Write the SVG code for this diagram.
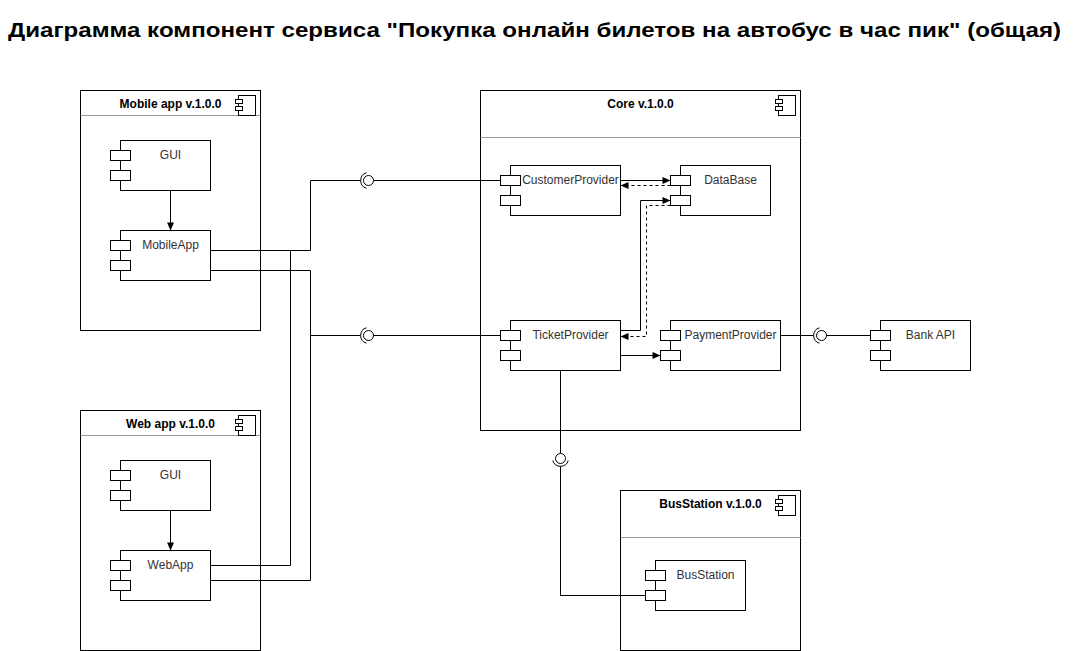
<svg xmlns="http://www.w3.org/2000/svg" width="1082" height="651" viewBox="0 0 1082 651">
<style>
text { font-family: "Liberation Sans", Arial, Helvetica, sans-serif; }
.title { font-size: 20px; font-weight: bold; fill: #000; }
.ctitle { font-size: 12px; font-weight: bold; fill: #000; text-anchor: middle; }
.lbl { font-size: 12px; fill: #333; text-anchor: middle; }
.box { fill: #fff; stroke: #000; stroke-width: 1; }
.hdr { stroke: #999; stroke-width: 1; fill: none; }
.edge { fill: none; stroke: #000; stroke-width: 1; }
.dash { stroke-dasharray: 3 3; }
.ball { fill: #fff; stroke: #000; stroke-width: 1; }
</style>
<defs>
<marker id="arr" markerUnits="userSpaceOnUse" markerWidth="9" markerHeight="9" refX="8" refY="4" orient="auto" overflow="visible">
<path d="M0,0.5 L8,4 L0,7.5 z" fill="#000" stroke="none"/>
</marker>
</defs>
<rect x="0" y="0" width="1082" height="651" fill="#fff"/>
<text class="title" x="8" y="37" textLength="1053" lengthAdjust="spacingAndGlyphs">Диаграмма компонент сервиса "Покупка онлайн билетов на автобус в час пик" (общая)</text>
<g transform="translate(0.5,0.5)">
<g id="mobile-app">
<rect class="box" x="80" y="90" width="180" height="240"/>
<line class="hdr" x1="80" y1="115" x2="260" y2="115"/>
<text class="ctitle" x="170" y="107">Mobile app v.1.0.0</text>
<rect class="box" x="238" y="95" width="17" height="20"/>
<rect class="box" x="235" y="99" width="7" height="4"/>
<rect class="box" x="235" y="106" width="7" height="4"/>
</g>
<g id="mobile-gui">
<rect class="box" x="120" y="140" width="90" height="50"/>
<rect class="box" x="110" y="150" width="20" height="10"/>
<rect class="box" x="110" y="170" width="20" height="10"/>
<text class="lbl" x="170" y="158">GUI</text>
</g>
<g id="mobileapp">
<rect class="box" x="120" y="230" width="90" height="50"/>
<rect class="box" x="110" y="240" width="20" height="10"/>
<rect class="box" x="110" y="260" width="20" height="10"/>
<text class="lbl" x="170" y="248">MobileApp</text>
</g>
<g id="web-app">
<rect class="box" x="80" y="410" width="180" height="240"/>
<line class="hdr" x1="80" y1="435" x2="260" y2="435"/>
<text class="ctitle" x="170" y="427">Web app v.1.0.0</text>
<rect class="box" x="238" y="415" width="17" height="20"/>
<rect class="box" x="235" y="419" width="7" height="4"/>
<rect class="box" x="235" y="426" width="7" height="4"/>
</g>
<g id="web-gui">
<rect class="box" x="120" y="460" width="90" height="50"/>
<rect class="box" x="110" y="470" width="20" height="10"/>
<rect class="box" x="110" y="490" width="20" height="10"/>
<text class="lbl" x="170" y="478">GUI</text>
</g>
<g id="webapp">
<rect class="box" x="120" y="550" width="90" height="50"/>
<rect class="box" x="110" y="560" width="20" height="10"/>
<rect class="box" x="110" y="580" width="20" height="10"/>
<text class="lbl" x="170" y="568">WebApp</text>
</g>
<g id="core">
<rect class="box" x="480" y="90" width="320" height="340"/>
<line class="hdr" x1="480" y1="137" x2="800" y2="137"/>
<text class="ctitle" x="640" y="107">Core v.1.0.0</text>
<rect class="box" x="778" y="95" width="17" height="20"/>
<rect class="box" x="775" y="99" width="7" height="4"/>
<rect class="box" x="775" y="106" width="7" height="4"/>
</g>
<g id="customerprovider">
<rect class="box" x="510" y="165" width="110" height="50"/>
<rect class="box" x="500" y="175" width="20" height="10"/>
<rect class="box" x="500" y="195" width="20" height="10"/>
<text class="lbl" x="570" y="183">CustomerProvider</text>
</g>
<g id="database">
<rect class="box" x="680" y="165" width="90" height="50"/>
<rect class="box" x="670" y="175" width="20" height="10"/>
<rect class="box" x="670" y="195" width="20" height="10"/>
<text class="lbl" x="730" y="183">DataBase</text>
</g>
<g id="ticketprovider">
<rect class="box" x="510" y="320" width="110" height="50"/>
<rect class="box" x="500" y="330" width="20" height="10"/>
<rect class="box" x="500" y="350" width="20" height="10"/>
<text class="lbl" x="570" y="338">TicketProvider</text>
</g>
<g id="paymentprovider">
<rect class="box" x="670" y="320" width="110" height="50"/>
<rect class="box" x="660" y="330" width="20" height="10"/>
<rect class="box" x="660" y="350" width="20" height="10"/>
<text class="lbl" x="730" y="338">PaymentProvider</text>
</g>
<g id="bank-api">
<rect class="box" x="880" y="320" width="90" height="50"/>
<rect class="box" x="870" y="330" width="20" height="10"/>
<rect class="box" x="870" y="350" width="20" height="10"/>
<text class="lbl" x="930" y="338">Bank API</text>
</g>
<g id="busstation-container">
<rect class="box" x="620" y="490" width="180" height="160"/>
<line class="hdr" x1="620" y1="537" x2="800" y2="537"/>
<text class="ctitle" x="710" y="507">BusStation v.1.0.0</text>
<rect class="box" x="778" y="495" width="17" height="20"/>
<rect class="box" x="775" y="499" width="7" height="4"/>
<rect class="box" x="775" y="506" width="7" height="4"/>
</g>
<g id="busstation">
<rect class="box" x="655" y="560" width="90" height="50"/>
<rect class="box" x="645" y="570" width="20" height="10"/>
<rect class="box" x="645" y="590" width="20" height="10"/>
<text class="lbl" x="705" y="578">BusStation</text>
</g>
<g id="connectors">
<path class="edge" d="M170,190 L170,230" marker-end="url(#arr)"/>
<path class="edge" d="M170,510 L170,550" marker-end="url(#arr)"/>
<path class="edge" d="M210,250 L310,250 L310,180 L360,180"/>
<path class="edge" d="M366,172.3 A8,8 0 0 0 366,187.7"/>
<circle class="ball" cx="368" cy="180" r="5"/>
<path class="edge" d="M373,180 L500,180"/>
<path class="edge" d="M210,270 L310,270 L310,335 L360,335"/>
<path class="edge" d="M366,327.3 A8,8 0 0 0 366,342.7"/>
<circle class="ball" cx="368" cy="335" r="5"/>
<path class="edge" d="M373,335 L500,335"/>
<path class="edge" d="M210,565 L290,565 L290,250"/>
<path class="edge" d="M210,580 L310,580 L310,335"/>
<path class="edge" d="M620,180 L670,180" marker-end="url(#arr)"/>
<path class="edge dash" d="M670,185 L620,185" marker-end="url(#arr)"/>
<path class="edge" d="M620,330 L640,330 L640,200 L670,200" marker-end="url(#arr)"/>
<path class="edge dash" d="M670,205 L646,205 L646,336 L620,336" marker-end="url(#arr)"/>
<path class="edge" d="M620,355 L660,355" marker-end="url(#arr)"/>
<path class="edge" d="M780,335 L813,335"/>
<path class="edge" d="M819,327.3 A8,8 0 0 0 819,342.7"/>
<circle class="ball" cx="821" cy="335" r="5"/>
<path class="edge" d="M826,335 L870,335"/>
<path class="edge" d="M560,370 L560,453"/>
<circle class="ball" cx="560" cy="458" r="5"/>
<path class="edge" d="M552.3,460 A8,8 0 0 0 567.7,460"/>
<path class="edge" d="M560,466 L560,595 L645,595"/>
</g>
</g>
</svg>
